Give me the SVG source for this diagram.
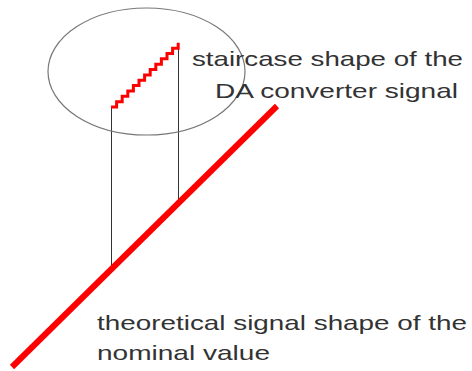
<svg xmlns="http://www.w3.org/2000/svg" width="472" height="371" viewBox="0 0 472 371">
<style>
.lbl{font-family:"Liberation Sans",Arial,sans-serif;font-size:21px;fill:#333}
.thin{stroke:#333;stroke-width:1;fill:none}
.red{stroke:#f00;fill:none}
</style>
<rect width="472" height="371" fill="#fff"/>
<g id="connectors">
<line class="thin" x1="111.5" y1="107" x2="111.5" y2="270"/>
<line class="thin" x1="178.5" y1="43" x2="178.5" y2="204"/>
</g>
<g id="zoom-ellipse">
<ellipse cx="146.5" cy="71.5" rx="98.5" ry="63.5" fill="none" stroke="#777" stroke-width="1.2"/>
</g>
<g id="staircase">
<path class="red" stroke-width="3" stroke-linejoin="miter" d="M111,107 h5.6 v-5.35 h5.6 v-5.35 h5.6 v-5.35 h5.6 v-5.35 h5.6 v-5.35 h5.6 v-5.35 h5.6 v-5.35 h5.6 v-5.35 h5.6 v-5.35 h5.6 v-5.35 h5.6 v-5.35 h5.6 v-5.35"/>
</g>
<g id="nominal-line">
<line class="red" stroke-width="6" x1="12" y1="367" x2="277" y2="106"/>
</g>
<g id="label-staircase">
<text class="lbl" x="192" y="66" textLength="271" lengthAdjust="spacingAndGlyphs">staircase shape of the</text>
<text class="lbl" x="215" y="98" textLength="243" lengthAdjust="spacingAndGlyphs">DA converter signal</text>
</g>
<g id="label-nominal">
<text class="lbl" x="97" y="330" textLength="370" lengthAdjust="spacingAndGlyphs">theoretical signal shape of the</text>
<text class="lbl" x="97" y="360" textLength="173" lengthAdjust="spacingAndGlyphs">nominal value</text>
</g>
</svg>
